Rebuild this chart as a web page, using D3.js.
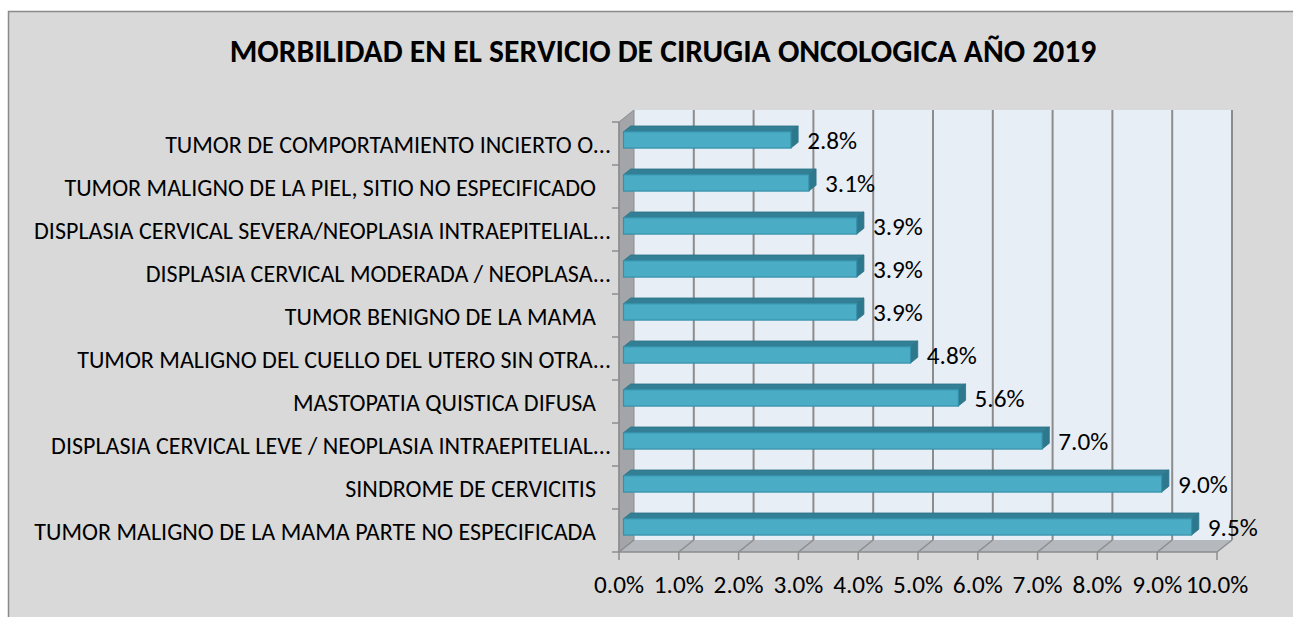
<!DOCTYPE html>
<html>
<head>
<meta charset="utf-8">
<title>Morbilidad Cirugia Oncologica 2019</title>
<style>
  body {margin: 0; background: #fff;}
  svg text {font-family: Carlito, Calibri, "Open Sans", sans-serif; fill: #000; white-space: pre;}
</style>
</head>
<body>
<svg id="chart" width="1293" height="617"></svg>
<script src="https://cdn.jsdelivr.net/npm/d3@7"></script>
<script>
// ---- data ----
var title = "MORBILIDAD EN EL SERVICIO DE CIRUGIA ONCOLOGICA AÑO 2019";
var categories = [
  "TUMOR DE COMPORTAMIENTO INCIERTO O...",
  "TUMOR MALIGNO DE LA PIEL, SITIO NO ESPECIFICADO ",
  "DISPLASIA CERVICAL SEVERA/NEOPLASIA INTRAEPITELIAL...",
  "DISPLASIA CERVICAL MODERADA / NEOPLASA...",
  "TUMOR BENIGNO DE LA MAMA ",
  "TUMOR MALIGNO DEL CUELLO DEL UTERO SIN OTRA...",
  "MASTOPATIA QUISTICA DIFUSA ",
  "DISPLASIA CERVICAL LEVE / NEOPLASIA INTRAEPITELIAL...",
  "SINDROME DE CERVICITIS ",
  "TUMOR MALIGNO DE LA MAMA PARTE NO ESPECIFICADA "
];
var values = [2.8, 3.1, 3.9, 3.9, 3.9, 4.8, 5.6, 7.0, 9.0, 9.5];   // percent
var xTicks = [0, 1, 2, 3, 4, 5, 6, 7, 8, 9, 10];

var svg = d3.select("#chart");

// 3d look: the back plane is shifted by (dx, dy) from the front plane
var depth = {dx: 15, dy: -12};
var barFront = 0.3, barBack = 0.78;

var x = d3.scaleLinear().domain([0, 10]).range([619, 1217]);
var y = d3.scaleBand().domain(categories).range([122, 552])
  .paddingInner(0.62).paddingOuter(0.31);

var fmt = d3.format(".1f");

// font size that makes a sample string the given width
function fitSize(sample, width, weight) {
  var t = svg.append("text").attr("font-size", 100).attr("font-weight", weight || "normal").text(sample);
  var w = t.node().getComputedTextLength();
  t.remove();
  return 100 * width / w;
}
var titleSize = fitSize(title, 867, "bold");
var catSize = fitSize("TUMOR MALIGNO DE LA MAMA PARTE NO ESPECIFICADA", 562);
var valSize = fitSize("2.8%", 50);

// chart area
svg.append("rect")
  .attr("x", 8.5).attr("y", 11.5).attr("width", 1300).attr("height", 620)
  .attr("fill", "#d9d9d9").attr("stroke", "#8a8a8a").attr("stroke-width", 1.5);

var x0 = x(0), x1 = x(10);
var yT = y.range()[0], yB = y.range()[1];
var dx = depth.dx, dy = depth.dy;

// back wall
svg.append("polygon")
  .attr("points", [[x0 + dx, yT + dy], [x1 + dx, yT + dy], [x1 + dx, yB + dy], [x0 + dx, yB + dy]].join(" "))
  .attr("fill", "#e8eef6");

// side wall
svg.append("polygon")
  .attr("points", [[x0, yT], [x0 + dx, yT + dy], [x0 + dx, yB + dy], [x0, yB]].join(" "))
  .attr("fill", "#a3a5a8").attr("stroke", "#8c8c8c").attr("stroke-width", 1);

// floor
svg.append("polygon")
  .attr("points", [[x0, yB], [x1, yB], [x1 + dx, yB + dy], [x0 + dx, yB + dy]].join(" "))
  .attr("fill", "#b5b9bd");

// gridlines on back wall and floor
var grid = svg.append("g").attr("stroke", "#8c8c8c").attr("stroke-width", 2);
grid.selectAll(".gv").data(xTicks.filter(function(d) { return d > 0; })).enter().append("line")
  .attr("x1", function(d) { return x(d) + dx; }).attr("x2", function(d) { return x(d) + dx; })
  .attr("y1", yT + dy).attr("y2", yB + dy);
grid.selectAll(".gf").data(xTicks).enter().append("line")
  .attr("stroke-width", 1.5)
  .attr("x1", function(d) { return x(d); }).attr("y1", yB)
  .attr("x2", function(d) { return x(d) + dx; }).attr("y2", yB + dy);

// axes
var axisG = svg.append("g").attr("stroke", "#8c8c8c").attr("stroke-width", 1.5);
axisG.append("line").attr("x1", x0).attr("x2", x1).attr("y1", yB).attr("y2", yB);
axisG.selectAll(".tx").data(xTicks).enter().append("line")
  .attr("x1", function(d) { return x(d); }).attr("x2", function(d) { return x(d); })
  .attr("y1", yB).attr("y2", yB + 8);
axisG.append("line").attr("x1", x0).attr("x2", x0).attr("y1", yT).attr("y2", yB);
var bounds = categories.map(function(c) { return y(c) - y.step() * y.paddingInner() / 2; });
bounds.push(yB);
axisG.selectAll(".ty").data(bounds).enter().append("line")
  .attr("x1", x0 - 7).attr("x2", x0).attr("y1", function(d) { return d; }).attr("y2", function(d) { return d; });

// bars
var bw = y.bandwidth();
var fx = dx * barFront, fy = dy * barFront;
var ddx = dx * (barBack - barFront), ddy = dy * (barBack - barFront);
var bars = svg.append("g").selectAll("g").data(categories).enter().append("g");

bars.each(function(c, i) {
  var g = d3.select(this);
  var xl = x(0) + fx, xr = x(values[i]) + fx;
  var top = y(c) + fy, bot = top + bw;
  g.append("polygon")
    .attr("points", [[xl, top], [xr, top], [xr + ddx, top + ddy], [xl + ddx, top + ddy]].join(" "))
    .attr("fill", "#337f95").attr("stroke", "#2c7287").attr("stroke-width", 0.8);
  g.append("polygon")
    .attr("points", [[xr, top], [xr + ddx, top + ddy], [xr + ddx, bot + ddy], [xr, bot]].join(" "))
    .attr("fill", "#2e788d").attr("stroke", "#2c7287").attr("stroke-width", 0.8);
  g.append("rect")
    .attr("x", xl).attr("y", top).attr("width", xr - xl).attr("height", bw)
    .attr("fill", "#4bacc6").attr("stroke", "#3590a9").attr("stroke-width", 1.2);
  g.append("text")
    .attr("x", xr + ddx + 9).attr("y", bot + 1)
    .attr("font-size", valSize)
    .text(fmt(values[i]) + "%");
});

// category labels (names that end in a space sit a little further left, as in Excel)
svg.append("g").selectAll("text").data(categories).enter().append("text")
  .attr("x", function(c) { return /\s$/.test(c) ? 596 : 611; })
  .attr("y", function(c) { return y(c) + bw / 2 + 9; })
  .attr("text-anchor", "end")
  .attr("font-size", catSize)
  .text(function(c) { return c.trim(); });

// x tick labels
svg.append("g").selectAll("text").data(xTicks).enter().append("text")
  .attr("x", function(d) { return x(d); })
  .attr("y", 593)
  .attr("text-anchor", "middle")
  .attr("font-size", valSize)
  .text(function(d) { return fmt(d) + "%"; });

// title
svg.append("text")
  .attr("x", 663).attr("y", 62)
  .attr("text-anchor", "middle")
  .attr("font-size", titleSize).attr("font-weight", "bold")
  .text(title);
</script>
</body>
</html>
